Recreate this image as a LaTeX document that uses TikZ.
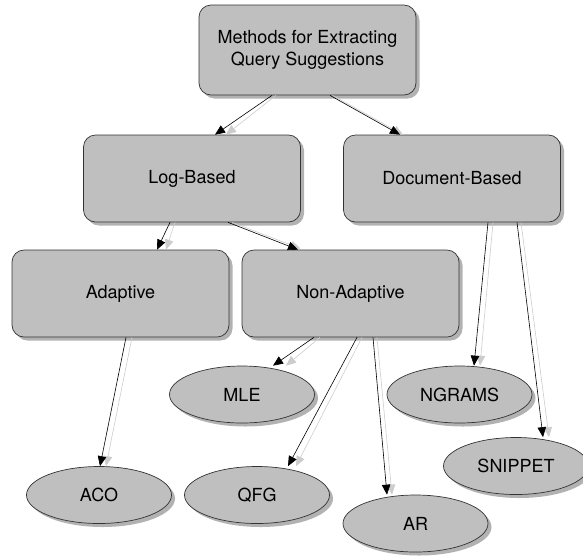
\documentclass[tikz,border=0pt]{standalone}
\usepackage{fontspec}
\setmainfont{TeX Gyre Heros}
\usetikzlibrary{arrows.meta,shapes.geometric,shadows}

\begin{document}
\begin{tikzpicture}[x=1pt, y=-1pt,
  every node/.style = {draw=black!80, line width=0.7pt, fill=black!25,
    align=center, inner sep=0pt, font=\fontsize{18}{22.5}\selectfont,
    drop shadow={shadow xshift=3.5pt, shadow yshift=-3.5pt,
      fill=black!30, opacity=1}},
  box/.style = {rectangle, rounded corners=12pt,
    minimum width=217pt, minimum height=87pt},
  leaf/.style = {ellipse, minimum width=145pt, minimum height=57pt},
  conn/.style = {-{Triangle[length=10pt,width=8.5pt]}, line width=0.6pt},
  connshade/.style = {conn, black!20}]
  \useasboundingbox (0,0) rectangle (583,558);

  % categories
  \node[box, minimum height=90pt] (methods) at (307.5,50)
    {Methods for Extracting\\Query Suggestions};
  \node[box] (logbased) at (192,178.5) {Log-Based};
  \node[box] (docbased) at (452,178.5) {Document-Based};
  \node[box] (adaptive) at (120.5,293.5) {Adaptive};
  \node[box] (nonadaptive) at (350.5,293.5) {Non-Adaptive};

  % methods
  \node[leaf] (mle) at (242,394.5) {MLE};
  \node[leaf] (ngrams) at (459.5,394.5) {NGRAMS};
  \node[leaf] (snippet) at (516,466) {SNIPPET};
  \node[leaf] (aco) at (99,495) {ACO};
  \node[leaf] (qfg) at (257,495) {QFG};
  \node[leaf] (ar) at (415.5,523.5) {AR};

  % light copies of the arrows
  \draw[connshade] ([xshift=-31.5pt]methods.south) -- ([xshift=34pt]logbased.north);
  \draw[connshade] ([xshift=25pt]methods.south) -- ([xshift=-49pt]docbased.north);
  \draw[connshade] ([xshift=-17pt]logbased.south) -- ([xshift=45.5pt]adaptive.north);
  \draw[connshade] ([xshift=40pt]logbased.south) -- ([xshift=-50pt,yshift=1pt]nonadaptive.north);
  \draw[connshade] ([xshift=11.5pt]adaptive.south) -- ([xshift=7pt]aco.north);
  \draw[connshade] ([xshift=-30.5pt]nonadaptive.south) -- ([xshift=44pt]mle.north);
  \draw[connshade] ([xshift=11.5pt]nonadaptive.south) -- ([xshift=39pt]qfg.north);
  \draw[connshade] ([xshift=26.5pt]nonadaptive.south) -- ([xshift=-23.5pt]ar.north);
  \draw[connshade] ([xshift=41pt]docbased.south) -- ([xshift=20.5pt]ngrams.north);
  \draw[connshade] ([xshift=69pt]docbased.south) -- ([xshift=33pt]snippet.north);

  % arrows
  \draw[conn] ([xshift=-35.5pt]methods.south) -- ([xshift=23pt]logbased.north);
  \draw[conn] ([xshift=22.5pt]methods.south) -- ([xshift=-52pt]docbased.north);
  \draw[conn] ([xshift=-22pt]logbased.south) -- ([xshift=36.5pt]adaptive.north);
  \draw[conn] ([xshift=36pt]logbased.south) -- ([xshift=-52.5pt]nonadaptive.north);
  \draw[conn] ([xshift=5.5pt]adaptive.south) -- ([xshift=1pt]aco.north);
  \draw[conn] ([xshift=-36.5pt]nonadaptive.south) -- ([xshift=31pt]mle.north);
  \draw[conn] ([xshift=6.5pt]nonadaptive.south) -- ([xshift=31pt]qfg.north);
  \draw[conn] ([xshift=22.5pt]nonadaptive.south) -- ([xshift=-28.5pt]ar.north);
  \draw[conn] ([xshift=36pt]docbased.south) -- ([xshift=14.5pt]ngrams.north);
  \draw[conn] ([xshift=65pt]docbased.south) -- ([xshift=27pt]snippet.north);
\end{tikzpicture}
\end{document}
